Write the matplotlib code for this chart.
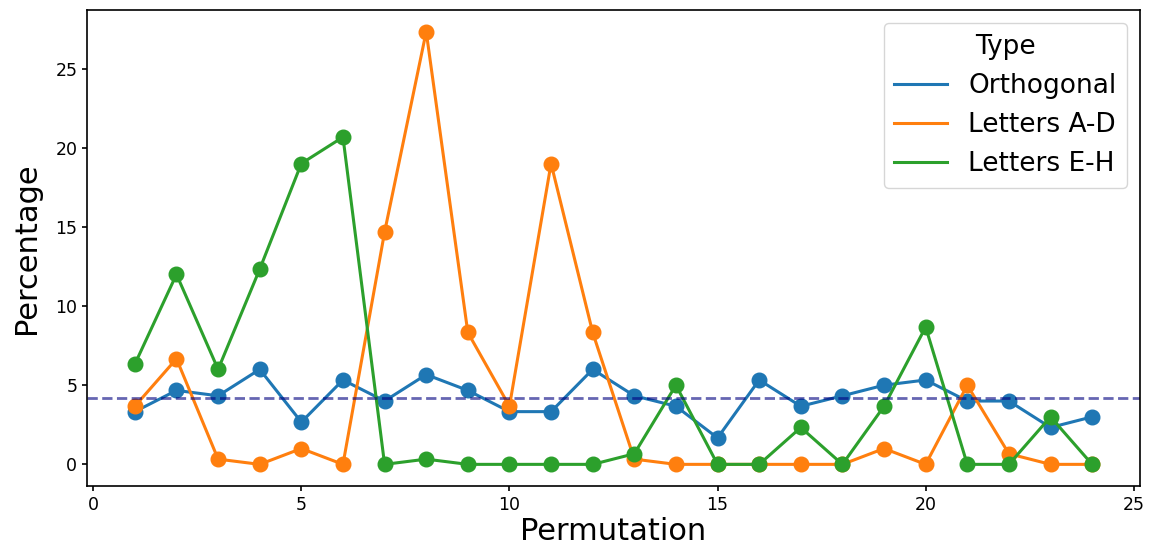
import matplotlib
matplotlib.use("Agg")
import matplotlib.pyplot as plt
from matplotlib.lines import Line2D
import numpy as np

permutation = list(range(1, 25))

orthogonal = [3.33, 4.67, 4.33, 6.0, 2.67, 5.33, 4.0, 5.67, 4.67, 3.33, 3.33, 6.0,
              4.33, 3.67, 1.67, 5.33, 3.67, 4.33, 5.0, 5.33, 4.0, 4.0, 2.33, 3.0]
letters_ad = [3.67, 6.67, 0.33, 0.0, 1.0, 0.0, 14.67, 27.33, 8.33, 3.67, 19.0, 8.33,
              0.33, 0.0, 0.0, 0.0, 0.0, 0.0, 1.0, 0.0, 5.0, 0.67, 0.0, 0.0]
letters_eh = [6.33, 12.0, 6.0, 12.33, 19.0, 20.67, 0.0, 0.33, 0.0, 0.0, 0.0, 0.0,
              0.67, 5.0, 0.0, 0.0, 2.33, 0.0, 3.67, 8.67, 0.0, 0.0, 3.0, 0.0]

series_names = ["Orthogonal", "Letters A-D", "Letters E-H"]
colors = ["#1f77b4", "#ff7f0e", "#2ca02c"]

chance = 100 / 24

fig = plt.figure(figsize=(11.51, 5.58), dpi=100)
ax = fig.add_axes([87 / 1151, 1 - 486 / 558, (1140 - 87) / 1151, (486 - 10) / 558])

for vals, name, c in zip([orthogonal, letters_ad, letters_eh], series_names, colors):
    ax.plot(permutation, vals, color=c, lw=2.2, marker="o", markersize=10.5, label=name)

ax.axhline(chance, color="navy", ls="--", lw=2, alpha=0.6)

ax.set_xlabel("Permutation", fontsize=22, labelpad=2)
ax.set_ylabel("Percentage", fontsize=22, labelpad=10)
ax.tick_params(labelsize=12.5, width=1.2)
for sp in ax.spines.values():
    sp.set_linewidth(1.2)

handles = [Line2D([0], [0], color=c, lw=2.2) for c in colors]
leg = ax.legend(handles, series_names, title="Type", loc="upper right",
                fontsize=19, title_fontsize=19)

fig.savefig("out.png", dpi=100)
